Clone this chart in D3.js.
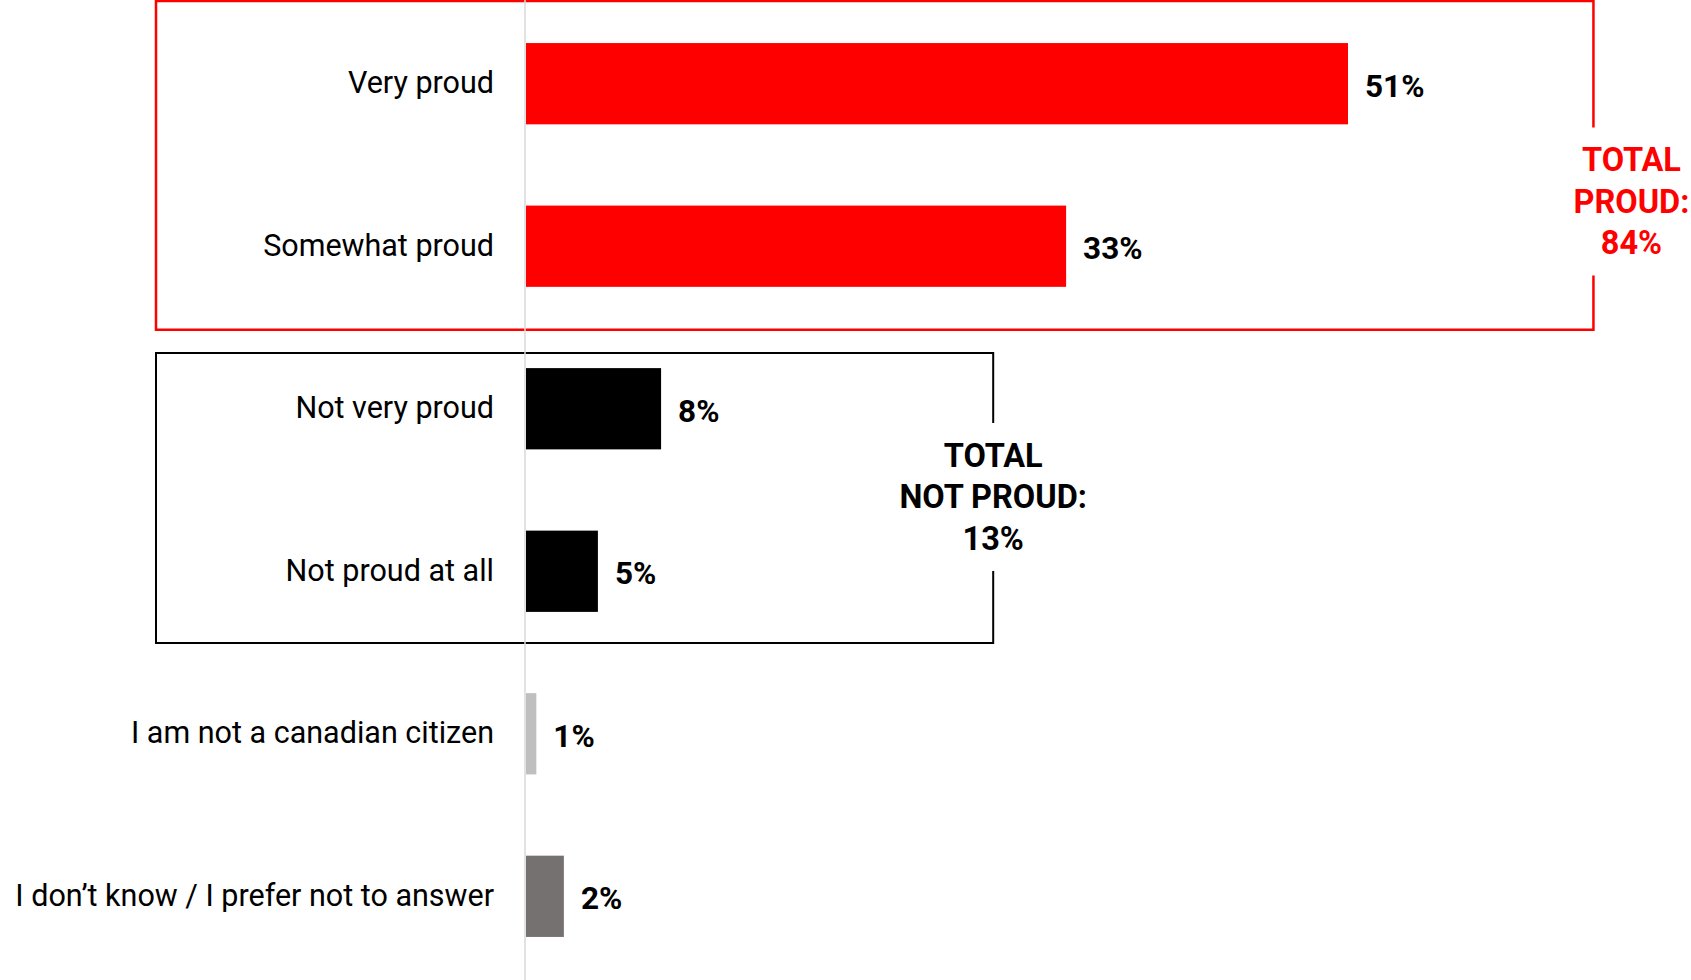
<!DOCTYPE html>
<html>
<head>
<meta charset="utf-8">
<script src="https://cdn.jsdelivr.net/npm/d3@7"></script>
<style>
  body { margin: 0; background: #fff; }
  svg { display: block; }
  .cat { font-family: Roboto, "Noto Sans", sans-serif; font-size: 30.5px; fill: #000; }
  .val { font-family: Roboto, "Noto Sans", sans-serif; font-size: 31.5px; font-weight: bold; }
  .total { font-family: Roboto, "Noto Sans", sans-serif; font-size: 32.5px; font-weight: bold; }
</style>
</head>
<body>
<svg id="canvas" width="1691" height="980"></svg>
<script>
const categories = [
  "Very proud",
  "Somewhat proud",
  "Not very proud",
  "Not proud at all",
  "I am not a canadian citizen",
  "I don\u2019t know / I prefer not to answer",
];
const values = [50.8, 33.4, 8.4, 4.5, 0.7, 2.4];
const barColors = ["#ff0000", "#ff0000", "#000000", "#000000", "#bfbfbf", "#767171"];

const totalProud = ["TOTAL", "PROUD:", "84%"];
const totalNotProud = ["TOTAL", "NOT PROUD:", "13%"];

const canvas = d3.select("#canvas");
const width = +canvas.attr("width");
const height = +canvas.attr("height");

const x0 = 525;
const x = d3.scaleLinear().domain([0, 50.8]).range([x0, 1348]);
const y = d3
  .scaleBand()
  .domain(categories)
  .range([0, height])
  .paddingInner(0.5)
  .paddingOuter(0.265);
const bw = y.bandwidth();

// group boxes, open on the right side where the total label sits
const drawBox = (top, bottom, right, color, sw, gapMid) => {
  const left = 156;
  const p = d3.path();
  p.moveTo(right, gapMid - 74);
  p.lineTo(right, top);
  p.lineTo(left, top);
  p.lineTo(left, bottom);
  p.lineTo(right, bottom);
  p.lineTo(right, gapMid + 74);
  canvas
    .append("path")
    .attr("d", p.toString())
    .attr("fill", "none")
    .attr("stroke", color)
    .attr("stroke-width", sw);
};

const drawTotal = (lines, cx, cy, color) => {
  canvas
    .append("g")
    .selectAll("text")
    .data(lines)
    .enter()
    .append("text")
    .attr("class", "total")
    .attr("x", cx)
    .attr("y", (d, i) => cy + (i - 1) * 41.5)
    .attr("dy", "0.35em")
    .attr("text-anchor", "middle")
    .attr("fill", color)
    .text((d) => d);
};

const redTop = y(categories[0]) - 42;
const redBottom = y(categories[1]) + bw + 43;
const redRight = x(65.95);
const redMid = (redTop + redBottom) / 2 + 36;
drawBox(redTop, redBottom, redRight, "#ff0000", 2.5, redMid);

const blackTop = y(categories[2]) - 15;
const blackBottom = y(categories[3]) + bw + 31;
const blackRight = x(28.9);
const blackMid = (blackTop + blackBottom) / 2 - 1;
drawBox(blackTop, blackBottom, blackRight, "#000000", 2, blackMid);

// axis line
canvas
  .append("line")
  .attr("x1", x0)
  .attr("x2", x0)
  .attr("y1", 0)
  .attr("y2", height)
  .attr("stroke", "#d9d9d9")
  .attr("stroke-width", 1.5);

const rows = categories.map((c, i) => ({ cat: c, value: values[i], color: barColors[i] }));

canvas
  .selectAll("rect.bar")
  .data(rows)
  .enter()
  .append("rect")
  .attr("class", "bar")
  .attr("x", x(0) + 1)
  .attr("y", (d) => y(d.cat))
  .attr("width", (d) => x(d.value) - x(0) - 1)
  .attr("height", bw)
  .attr("fill", (d) => d.color);

canvas
  .selectAll("text.cat")
  .data(rows)
  .enter()
  .append("text")
  .attr("class", "cat")
  .attr("x", x0 - 31)
  .attr("y", (d) => y(d.cat) + bw / 2 - 1)
  .attr("dy", "0.35em")
  .attr("text-anchor", "end")
  .text((d) => d.cat);

canvas
  .selectAll("text.val")
  .data(rows)
  .enter()
  .append("text")
  .attr("class", "val")
  .attr("x", (d) => x(d.value) + 17)
  .attr("y", (d) => y(d.cat) + bw / 2 + 2)
  .attr("dy", "0.35em")
  .text((d) => Math.round(d.value) + "%");

drawTotal(totalProud, redRight + 38, redMid, "#ff0000");
drawTotal(totalNotProud, blackRight, blackMid, "#000000");
</script>
</body>
</html>
